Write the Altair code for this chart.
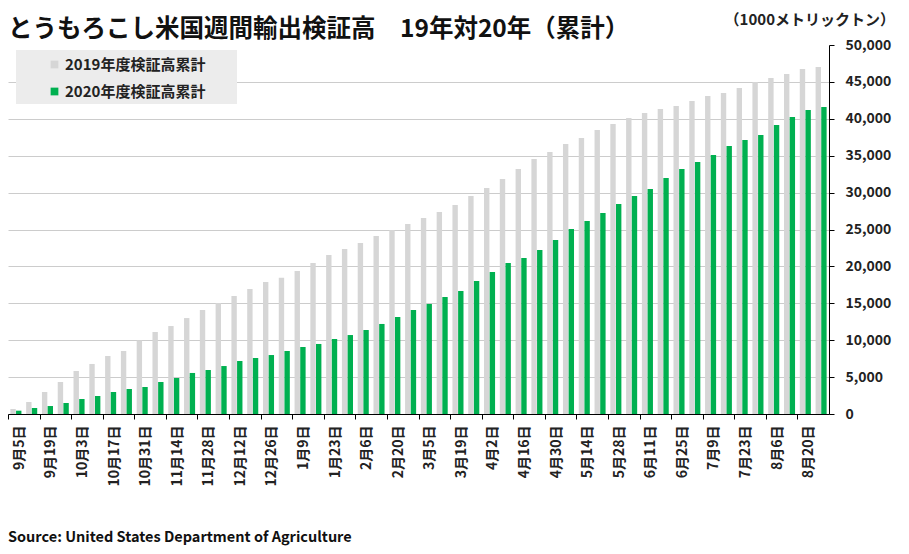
import altair as alt
import pandas as pd

weeks = ["9月5日", "9月12日", "9月19日", "9月26日", "10月3日", "10月10日", "10月17日", "10月24日", "10月31日",
         "11月7日", "11月14日", "11月21日", "11月28日", "12月5日", "12月12日", "12月19日", "12月26日",
         "1月2日", "1月9日", "1月16日", "1月23日", "1月30日", "2月6日", "2月13日", "2月20日", "2月27日",
         "3月5日", "3月12日", "3月19日", "3月26日", "4月2日", "4月9日", "4月16日", "4月23日", "4月30日",
         "5月7日", "5月14日", "5月21日", "5月28日", "6月4日", "6月11日", "6月18日", "6月25日",
         "7月2日", "7月9日", "7月16日", "7月23日", "7月30日", "8月6日", "8月13日", "8月20日", "8月27日"]

cum_2019 = [680, 1630, 2980, 4340, 5830, 6780, 7860, 8540, 9980, 11110, 11920, 13000, 14090, 15040,
            15990, 16940, 17890, 18470, 19380, 20460, 21540, 22360, 23170, 24120, 24930, 25750, 26560,
            27370, 28320, 29540, 30620, 31840, 33200, 34550, 35500, 36590, 37400, 38480, 39290, 40110,
            40790, 41330, 41730, 42410, 43090, 43500, 44170, 44990, 45530, 46070, 46750, 47020]

cum_2020 = [450, 810, 1080, 1490, 2030, 2440, 2980, 3390, 3660, 4340, 4880, 5560, 5960, 6500, 7180,
            7590, 7990, 8540, 9080, 9490, 10160, 10700, 11380, 12200, 13140, 14090, 14910, 15850, 16670,
            18020, 19240, 20460, 21140, 22220, 23580, 25070, 26150, 27240, 28460, 29540, 30490, 31980,
            33200, 34150, 35090, 36310, 37130, 37800, 39160, 40240, 41190, 41600]

series_names = ["2019年度検証高累計", "2020年度検証高累計"]
series_colors = ["#d6d6d6", "#00b050"]
y_ticks = [0, 5000, 10000, 15000, 20000, 25000, 30000, 35000, 40000, 45000, 50000]

title_text = "とうもろこし米国週間輸出検証高\u300019年対20年（累計）"
unit_text = "（1000メトリックトン）"
source_text = "Source: United States Department of Agriculture"

FONT = "Noto Sans CJK JP"

rows = []
for w, a, b in zip(weeks, cum_2019, cum_2020):
    rows.append({"week": w, "series": series_names[0], "value": a})
    rows.append({"week": w, "series": series_names[1], "value": b})
df = pd.DataFrame(rows)

W = 821
H = 369
step = W / len(weeks)

# legend background panel (decoration)
legend_bg = alt.Chart(pd.DataFrame({"k": [0]})).mark_rect(color="#ececec").encode(
    x=alt.value(8), x2=alt.value(229), y=alt.value(5), y2=alt.value(59)
)

bars = alt.Chart(df).mark_bar().encode(
    x=alt.X("week:N", sort=weeks,
            scale=alt.Scale(paddingInner=0.3, paddingOuter=0.15),
            axis=alt.Axis(values=weeks[::2], title=None, labelAngle=270, labelFont=FONT,
                          labelFontSize=14, labelFontWeight="bold", labelColor="#222222",
                          labelPadding=6, tickSize=5, tickColor="#000000", domainColor="#000000",
                          bandPosition=0.5, tickOffset=-step / 2, labelOffset=step / 2 + 3.4,
                          grid=False)),
    xOffset=alt.XOffset("series:N", sort=series_names, scale=alt.Scale(paddingInner=0.05)),
    y=alt.Y("value:Q", scale=alt.Scale(domain=[0, 50000], nice=False),
            axis=alt.Axis(orient="right", values=y_ticks, format=",d", title=None,
                          labelFont=FONT, labelFontSize=14, labelFontWeight="bold",
                          labelColor="#222222", labelPadding=11, tickSize=5,
                          tickColor="#000000", domainColor="#000000",
                          gridColor="#cccccc",
                          gridOpacity={"condition": {"test": "datum.value === 50000", "value": 0}, "value": 1})),
    color=alt.Color("series:N", sort=series_names,
                    scale=alt.Scale(domain=series_names, range=series_colors),
                    legend=alt.Legend(orient="none", legendX=8, legendY=5, title=None,
                                      padding=7, symbolOffset=24,
                                      symbolType="square", symbolSize=60, symbolStrokeWidth=0,
                                      labelFont=FONT, labelFontSize=15, labelFontWeight="bold",
                                      labelColor="#222222", labelOffset=3, rowPadding=11,
                                      labelLimit=400)),
)

title_df = pd.DataFrame({"t": [title_text]})
unit_df = pd.DataFrame({"t": [unit_text]})
source_df = pd.DataFrame({"t": [source_text]})

title_mark = alt.Chart(title_df).mark_text(
    align="left", baseline="alphabetic", font=FONT, fontSize=24.5, fontWeight="bold", color="#111111"
).encode(text="t:N", x=alt.value(0), y=alt.value(-8.5))

unit_mark = alt.Chart(unit_df).mark_text(
    align="right", baseline="middle", font=FONT, fontSize=15, fontWeight="bold", color="#222222"
).encode(text="t:N", x=alt.value(887), y=alt.value(-25))

source_mark = alt.Chart(source_df).mark_text(
    align="left", baseline="middle", font=FONT, fontSize=14.5, fontWeight="bold", color="#111111"
).encode(text="t:N", x=alt.value(0), y=alt.value(493))

chart = alt.layer(legend_bg, bars, title_mark, unit_mark, source_mark).properties(
    width=W, height=H,
    autosize=alt.AutoSizeParams(type="none"),
    padding={"left": 0, "top": 37, "right": 72, "bottom": 132},
    background="white",
).configure_view(stroke=None)

chart.save("out.html", embed_options={"renderer": "svg", "actions": False})
